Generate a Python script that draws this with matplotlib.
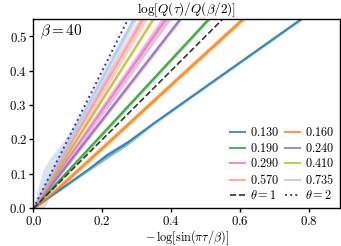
import numpy as np
import matplotlib
matplotlib.use("Agg")
import matplotlib.pyplot as plt

plt.rcParams["font.family"] = "serif"
plt.rcParams["font.serif"] = ["DejaVu Serif"]
plt.rcParams["mathtext.fontset"] = "cm"
plt.rcParams["axes.formatter.use_mathtext"] = True
plt.rcParams["font.size"] = 9.2

# -log[sin(pi tau / beta)] for tau = 20, 19, ..., 5  (beta = 40)
x = [0.0, 0.0031, 0.0124, 0.0280, 0.0502, 0.0792, 0.1154, 0.1594,
     0.2119, 0.2739, 0.3466, 0.4316, 0.5314, 0.6491, 0.7897, 0.9605]

labels = ["0.130", "0.160", "0.190", "0.240", "0.290", "0.410", "0.570", "0.735"]
colors = ["#1f77b4", "#ff7f0e", "#2ca02c", "#9467bd", "#e377c2", "#bcbd22",
          "#ff9896", "#aec7e8"]

y_130 = [0.0, 0.0022, 0.0088, 0.0198, 0.0355, 0.0560, 0.0816, 0.1127,
         0.1520, 0.1910, 0.2450, 0.3051, 0.3757, 0.4589, 0.5583, 0.6790]
e_130 = [0.0, 0.001, 0.002, 0.003, 0.003, 0.004, 0.004, 0.005,
         0.009, 0.007, 0.004, 0.004, 0.004, 0.004, 0.004, 0.004]

y_160 = [0.0, 0.0010, 0.0070, 0.0190, 0.0380, 0.0640, 0.0970, 0.1370,
         0.1850, 0.2420, 0.3090, 0.3870, 0.4780, 0.5860, 0.7140, 0.8700]
e_160 = [0.0, 0.002, 0.004, 0.006, 0.007, 0.008, 0.008, 0.008,
         0.008, 0.008, 0.008, 0.008, 0.008, 0.008, 0.008, 0.008]

y_190 = [0.0, 0.0033, 0.0134, 0.0302, 0.0542, 0.0855, 0.1246, 0.1722,
         0.2289, 0.2958, 0.3743, 0.4661, 0.5739, 0.7010]
e_190 = [0.0, 0.002, 0.003, 0.004, 0.005, 0.006, 0.006, 0.006,
         0.006, 0.006, 0.006, 0.006, 0.006, 0.006]

y_240 = [0.0, 0.0040, 0.0160, 0.0361, 0.0648, 0.1022, 0.1489, 0.2056,
         0.2734, 0.3533, 0.4471, 0.5568, 0.6855]
e_240 = [0.0, 0.002, 0.003, 0.004, 0.005, 0.006, 0.007, 0.007,
         0.007, 0.007, 0.007, 0.007, 0.007]

y_290 = [0.0, 0.0044, 0.0177, 0.0400, 0.0718, 0.1133, 0.1650, 0.2279,
         0.3030, 0.3917, 0.4956, 0.6172]
e_290 = [0.0, 0.002, 0.004, 0.006, 0.008, 0.010, 0.012, 0.014,
         0.016, 0.018, 0.020, 0.022]

y_410 = [0.0, 0.0049, 0.0196, 0.0442, 0.0793, 0.1251, 0.1823, 0.2519,
         0.3348, 0.4328, 0.5476, 0.6820]
e_410 = [0.0, 0.002, 0.003, 0.004, 0.005, 0.006, 0.006, 0.006,
         0.006, 0.006, 0.006, 0.006]

y_570 = [0.0, 0.0054, 0.0215, 0.0484, 0.0868, 0.1370, 0.1996, 0.2758,
         0.3666, 0.4738, 0.5996]
e_570 = [0.0, 0.004, 0.008, 0.012, 0.015, 0.017, 0.018, 0.019,
         0.020, 0.021, 0.022]

y_735 = [0.0, 0.0058, 0.0233, 0.0526, 0.0944, 0.1489, 0.2170, 0.2997,
         0.3984, 0.5149, 0.6516]
e_735 = [0.0, 0.010, 0.035, 0.060, 0.055, 0.035, 0.022, 0.018,
         0.022, 0.016, 0.016]

ys = [y_130, y_160, y_190, y_240, y_290, y_410, y_570, y_735]
es = [e_130, e_160, e_190, e_240, e_290, e_410, e_570, e_735]

theta = [1, 2]
x_theory = [0.0, 0.9]

fig = plt.figure(figsize=(3.41, 2.46), dpi=100)
ax = fig.add_axes([0.098, 0.153, 0.899, 0.770])

handles = {}
for lab, col, y, e in zip(labels, colors, ys, es):
    xx = np.array(x[:len(y)])
    y = np.array(y)
    e = np.array(e)
    ax.fill_between(xx, y - e, y + e, color=col, alpha=0.5, lw=0)
    h, = ax.plot(xx, y, color=col, lw=1.5, alpha=0.8, label=lab)
    handles[lab] = h

xt = np.array(x_theory)
h1, = ax.plot(xt, theta[0] * xt, "--", color="#333333", lw=1.2, label=r"$\theta=1$")
h2, = ax.plot(xt, theta[1] * xt, ":", color="#3333cc", lw=1.4, label=r"$\theta=2$")

# legend rows: 0.130|0.160, 0.190|0.240, ... , theta=1|theta=2
order = ["0.130", "0.190", "0.290", "0.570", None, "0.160", "0.240", "0.410", "0.735", None]
hl = []
for i, k in enumerate(order):
    if k is None:
        hl.append(h1 if i == 4 else h2)
    else:
        hl.append(handles[k])
labs = [h.get_label() for h in hl]
labs = [r"$" + l + "$" if not l.startswith("$") else l for l in labs]
ax.legend(hl, labs, ncol=2, loc="lower right", frameon=False,
          handlelength=1.2, handletextpad=0.4, columnspacing=0.5,
          labelspacing=0.2, borderaxespad=0.3, borderpad=0.2, fontsize=8.8)

ax.text(0.02, 0.98, r"$\beta = 40$", transform=ax.transAxes, ha="left", va="top", fontsize=11)

ax.set_xlim(0, 0.89)
ax.set_ylim(0, 0.55)
ax.set_xticks([0.0, 0.2, 0.4, 0.6, 0.8])
ax.set_yticks([0.0, 0.1, 0.2, 0.3, 0.4, 0.5])
ax.xaxis.set_major_formatter(matplotlib.ticker.FormatStrFormatter(r"$%.1f$"))
ax.yaxis.set_major_formatter(matplotlib.ticker.FormatStrFormatter(r"$%.1f$"))
ax.tick_params(length=3, width=1, pad=1.5)
for s in ax.spines.values():
    s.set_linewidth(1.0)

ax.set_title(r"$\log[Q(\tau)/Q(\beta/2)]$", pad=-1, fontsize=9.5)
ax.set_xlabel(r"$-\,\log[\sin(\pi\tau/\beta)]$", labelpad=0.5, fontsize=8.8)

fig.savefig("out.png", dpi=100)
